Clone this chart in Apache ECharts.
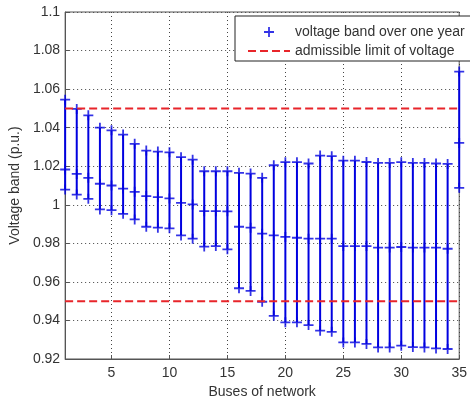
<!DOCTYPE html>
<html>
<head>
<meta charset="utf-8">
<script src="https://cdn.jsdelivr.net/npm/echarts@6/dist/echarts.min.js"></script>
<style>html,body{margin:0;padding:0;background:#fff}#c{width:470px;height:405px}</style>
</head>
<body>
<div id="c"></div>
<script>
const buses = [1,2,3,4,5,6,7,8,9,10,11,12,13,14,15,16,17,18,19,20,21,22,23,24,25,26,27,28,29,30,31,32,33,34,35];
const vMax = [1.0545,1.0497,1.0464,1.0400,1.0386,1.0364,1.0316,1.0281,1.0276,1.0272,1.0247,1.0234,1.0174,1.0174,1.0174,1.0166,1.0162,1.0140,1.0205,1.0221,1.0221,1.0214,1.0255,1.0252,1.0229,1.0229,1.0222,1.0217,1.0217,1.0221,1.0217,1.0217,1.0214,1.0212,1.0691];
const vMid = [1.0183,1.0160,1.0140,1.0109,1.0100,1.0084,1.0067,1.0045,1.0040,1.0033,1.0010,1.0002,0.9967,0.9967,0.9966,0.9886,0.9881,0.9850,0.9841,0.9833,0.9829,0.9824,0.9824,0.9824,0.9786,0.9786,0.9786,0.9778,0.9778,0.9781,0.9778,0.9778,0.9778,0.9772,1.0321];
const vMin = [1.0079,1.0053,1.0031,0.9976,0.9972,0.9953,0.9924,0.9886,0.9881,0.9878,0.9841,0.9824,0.9783,0.9786,0.9769,0.9567,0.9553,0.9497,0.9424,0.9390,0.9390,0.9376,0.9347,0.9341,0.9286,0.9286,0.9278,0.9260,0.9260,0.9269,0.9262,0.9260,0.9255,0.9252,1.0088];
const upperLimit = 1.05;
const lowerLimit = 0.95;
const xTicks = [5,10,15,20,25,30,35];
const bandName = 'voltage band over one year';
const limitName = 'admissible limit of voltage';

const FONT = "'Liberation Sans', Arial, sans-serif";
const BLUE = '#0000e0';
const RED = '#e8252a';
const plusPath = 'path://M0,4.1H10V5.9H0Z M4.1,0H5.9V10H4.1Z';

const markerData = [];
buses.forEach((b, i) => {
  markerData.push([b, vMax[i]], [b, vMid[i]], [b, vMin[i]]);
});
const rangeData = buses.map((b, i) => [b, vMin[i], vMax[i]]);
const firstBus = buses[0], lastBus = buses[buses.length - 1];

const chart = echarts.init(document.getElementById('c'), null, {renderer: 'canvas'});
chart.setOption({
  backgroundColor: '#fff',
  animation: false,
  textStyle: {fontFamily: FONT},
  grid: {left: 63, right: 10, top: 12, bottom: 46, show: true, borderColor: '#555', borderWidth: 1, backgroundColor: 'transparent'},
  legend: {
    left: 235, top: 16, orient: 'vertical',
    backgroundColor: '#fff', borderColor: '#222', borderWidth: 1, borderRadius: 0,
    padding: [9, 6, 3, 12], itemGap: 5, itemWidth: 42, itemHeight: 10,
    textStyle: {fontSize: 14, color: '#333', fontFamily: FONT},
    data: [{name: bandName, icon: plusPath, itemStyle: {color: BLUE}}, {name: limitName, itemStyle: {opacity: 0}}]
  },
  xAxis: {
    type: 'value', min: firstBus, max: lastBus,
    name: 'Buses of network', nameLocation: 'middle', nameGap: 24,
    nameTextStyle: {fontSize: 14, color: '#333', fontFamily: FONT},
    axisLine: {show: true, lineStyle: {color: '#555'}},
    axisTick: {show: true, inside: true, length: 4, customValues: xTicks, lineStyle: {color: '#555'}},
    axisLabel: {customValues: xTicks, fontSize: 14, color: '#333', margin: 7, fontFamily: FONT},
    splitLine: {show: true, lineStyle: {color: '#444', type: [1, 3], width: 1}}
  },
  yAxis: {
    type: 'value', min: 0.92, max: 1.1, interval: 0.02,
    name: 'Voltage band (p.u.)', nameLocation: 'middle', nameGap: 41,
    nameTextStyle: {fontSize: 14, color: '#333', fontFamily: FONT},
    axisLine: {show: true, lineStyle: {color: '#555'}},
    axisTick: {show: true, inside: true, length: 4, lineStyle: {color: '#555'}},
    axisLabel: {fontSize: 14, color: '#333', margin: 5, fontFamily: FONT,
      formatter: v => String(+v.toFixed(2))},
    splitLine: {show: true, lineStyle: {color: '#444', type: [1, 3], width: 1}}
  },
  series: [
    {
      type: 'custom', name: 'range', silent: true, z: 2,
      data: rangeData,
      renderItem: (params, api) => {
        const p1 = api.coord([api.value(0), api.value(1)]);
        const p2 = api.coord([api.value(0), api.value(2)]);
        return {type: 'line', shape: {x1: p1[0], y1: p1[1], x2: p2[0], y2: p2[1]},
          style: {stroke: BLUE, lineWidth: 2}};
      }
    },
    {
      type: 'scatter', name: bandName, z: 3,
      symbol: plusPath, symbolSize: 10,
      itemStyle: {color: BLUE},
      data: markerData
    },
    {
      type: 'line', name: limitName, z: 4, symbol: 'none',
      lineStyle: {color: RED, width: 2, type: [8, 4]},
      itemStyle: {color: RED},
      data: [[firstBus, upperLimit], [lastBus, upperLimit]]
    },
    {
      type: 'line', name: limitName, z: 4, symbol: 'none',
      lineStyle: {color: RED, width: 2, type: [8, 4]},
      itemStyle: {color: RED},
      data: [[firstBus, lowerLimit], [lastBus, lowerLimit]]
    }
  ]
});
</script>
</body>
</html>
